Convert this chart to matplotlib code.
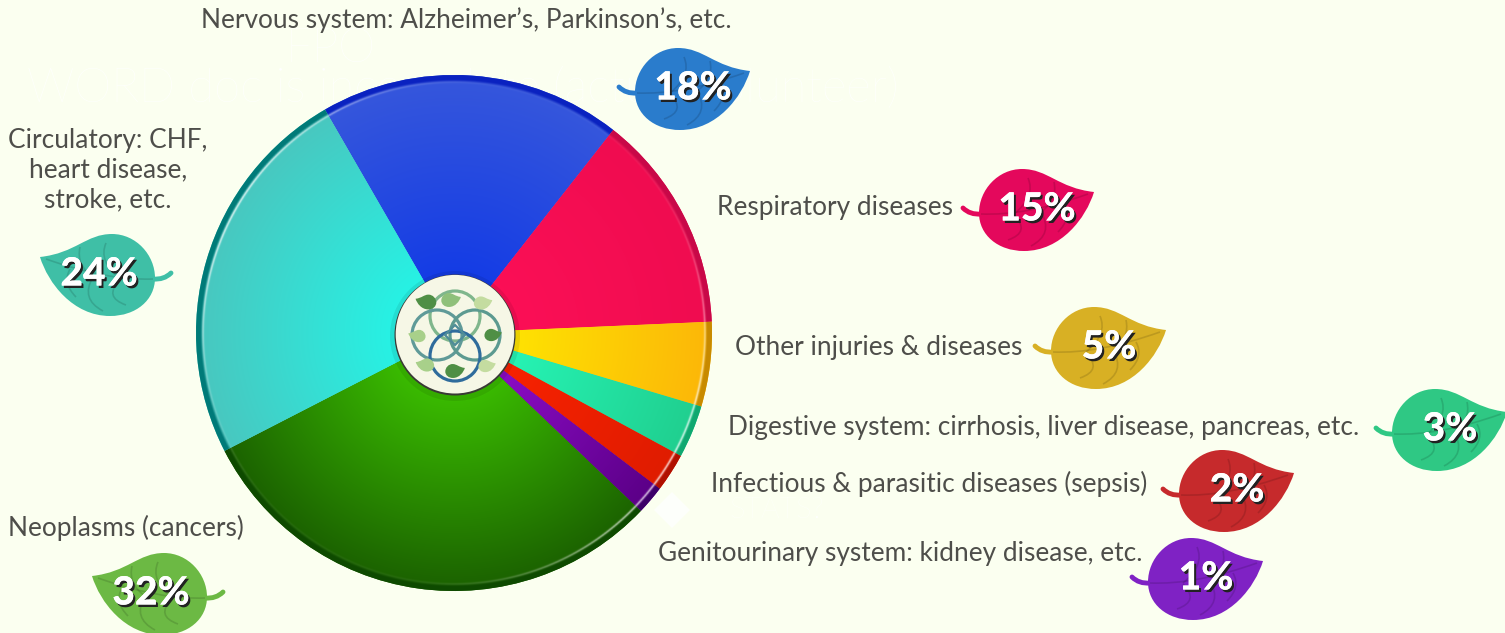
#coding:utf8

import numpy as np
import matplotlib
matplotlib.use('Agg')
import matplotlib.pyplot as plt
import matplotlib.patheffects as pe
from matplotlib.colors import to_rgb
from matplotlib.patches import Circle, PathPatch, RegularPolygon
from matplotlib.path import Path

W = 1505
H = 633
BG = '#fbfff0'
TXT = '#4e4e4a'

plt.rcParams['font.family'] = ['Lato', 'DejaVu Sans']

categories = ['Nervous system: Alzheimer\u2019s, Parkinson\u2019s, etc.',
              'Respiratory diseases',
              'Other injuries & diseases',
              'Digestive system: cirrhosis, liver disease, pancreas, etc.',
              'Infectious & parasitic diseases (sepsis)',
              'Genitourinary system: kidney disease, etc.',
              'Neoplasms (cancers)',
              'Circulatory: CHF,\nheart disease,\nstroke, etc.']
percent_labels = ['18%', '15%', '5%', '3%', '2%', '1%', '32%', '24%']
slice_share = [18.9, 13.7, 5.3, 3.3, 2.4, 1.8, 30.3, 24.2]

inner_cols = ['#0a34e8', '#ff1058', '#fff000', '#28ffc0', '#ff2400', '#9a10d8', '#44d800', '#1cfff0']
outer_cols = ['#3556dc', '#f00c50', '#fcb808', '#20d090', '#e01c00', '#5c0088', '#1c6400', '#48c8c0']
rim_cols = ['#0a22c0', '#c80848', '#c88a00', '#10a870', '#b01000', '#3c0068', '#0e4a00', '#007a78']
leaf_cols = ['#2a7ccc', '#e4085c', '#d8b024', '#2fc884', '#c62a2c', '#7f22c4', '#6cb944', '#3fbfa6']

# text anchors in picture pixels
label_x = [201, 717, 735, 728, 711, 658, 8, 108]
label_y = [20, 207, 348, 428, 484, 554, 528, 170]
leaf_x = [692, 1036, 1108, 1449, 1236, 1205, 150, 98]
leaf_y = [89, 210, 348, 430, 491, 579, 594, 275]
leaf_dir = [1, 1, 1, 1, 1, 1, -1, -1]

PIE_X, PIE_Y, PIE_R = 454, 333, 258


def py(y):
    return H - y


def leaf_path(cx, cy, s=1.0, d=1):
    verts = [(-57, 3), (-57, -20), (-38, -41), (-14, -41),
             (12, -41), (22, -22), (58, -18),
             (50, 8), (25, 41), (-12, 41),
             (-38, 41), (-57, 25), (-57, 3), (-57, 3)]
    codes = [Path.MOVETO] + [Path.CURVE4] * 12 + [Path.CLOSEPOLY]
    verts = [(cx + d * s * a, py(cy + s * b)) for a, b in verts]
    return Path(verts, codes)


def curve(cx, cy, pts, s=1.0, d=1):
    verts = [(cx + d * s * a, py(cy + s * b)) for a, b in pts]
    return Path(verts, [Path.MOVETO] + [Path.CURVE3] * (len(pts) - 1))


def draw_leaf(ax, cx, cy, col, d=1, s=1.0, z=6, veins=True):
    body = PathPatch(leaf_path(cx, cy, s, d), fc=col, ec='none', zorder=z)
    ax.add_patch(body)
    if not veins:
        return
    rib = [(-73, -2), (-66, 5), (-55, 4), (-10, 6), (52, -16)]
    ax.add_patch(PathPatch(curve(cx, cy, rib[:3], s, d), fc='none', ec=col, lw=3.5, capstyle='round', zorder=z))
    dark = [rib[2:],
            [(-22, 4), (0, -14), (-8, -32)],
            [(5, 2), (22, -10), (18, -28)],
            [(-22, 5), (-5, 22), (-28, 30)],
            [(5, 2), (18, 24), (-5, 36)],
            [(28, -6), (36, 8), (22, 22)]]
    for pts in dark:
        v = PathPatch(curve(cx, cy, pts, s, d), fc='none', ec='black', alpha=0.13, lw=1.2, zorder=z + 0.1)
        ax.add_patch(v)
        v.set_clip_path(body)


def shade_wedge(ax, wedge, inner, outer, rim):
    # radial shading, painted in a square and cut by the pie wedge
    n = 800
    u = np.linspace(-1, 1, n)
    xx, yy = np.meshgrid(u, u)
    r = np.hypot(xx, yy)
    a = np.degrees(np.arctan2(yy, xx)) % 360
    c0, c1, c2 = np.array(to_rgb(inner)), np.array(to_rgb(outer)), np.array(to_rgb(rim))
    t = np.clip(r / 0.97, 0, 1)[..., None]
    img = c0 * (1 - t) + c1 * t
    e = np.clip((r - 0.972) / 0.012, 0, 1)[..., None]
    img = img * (1 - e) + c2 * e
    # thin pale ring just inside the rim, stronger upper left and lower right
    glow = np.exp(-((r - 0.974) / 0.004) ** 2)
    k = 0.05 + 0.7 * np.cos(np.radians(a - 150)) ** 4
    g = (glow * k)[..., None]
    img = img * (1 - g) + g
    im = ax.imshow(img, extent=(PIE_X - PIE_R, PIE_X + PIE_R, py(PIE_Y) - PIE_R, py(PIE_Y) + PIE_R),
                   origin='lower', zorder=3, interpolation='bilinear')
    im.set_clip_path(wedge)


def main():
    fig = plt.figure(figsize=(W / 100, H / 100), dpi=100, facecolor=BG)
    ax = fig.add_axes([0, 0, 1, 1])

    wedges, _ = ax.pie(slice_share, center=(PIE_X, py(PIE_Y)), radius=PIE_R, startangle=120,
                       counterclock=False, colors=outer_cols, frame=True, normalize=True)
    for w, a, b, c in zip(wedges, inner_cols, outer_cols, rim_cols):
        w.set_zorder(2)
        shade_wedge(ax, w, a, b, c)

    ax.set_xlim(0, W)
    ax.set_ylim(0, H)
    ax.set_aspect('equal')
    ax.axis('off')

    # leftover white placeholder text from the source artwork
    ghost = dict(color='white', ha='center', va='center', zorder=1, fontweight='light')
    ax.text(331, py(50), 'FPO', fontsize=34, **ghost)
    ax.text(463, py(88), 'WORD doc is incomplete (actual volunteer)', fontsize=34, **ghost)
    ax.text(777, py(510), 'STATS?', fontsize=21, **ghost)
    ax.add_patch(RegularPolygon((672, py(510)), 4, radius=18, fc='white', ec='none', alpha=0.75, zorder=1))

    # hub with the logo
    ax.add_patch(Circle((PIE_X + 1, py(PIE_Y + 3)), 65, fc='black', ec='none', alpha=0.08, zorder=4))
    ax.add_patch(Circle((455, py(335)), 60.5, fc='#3a3a36', ec='none', zorder=5))
    ax.add_patch(Circle((455, py(334.2)), 59.3, fc='#f6f7e6', ec='none', zorder=5.1))
    for cx, cy, col in [(455, 316, '#7fb68c'), (437, 335, '#5f9a98'), (475, 335, '#5c9a90'), (455, 356, '#2f6c9c')]:
        ax.add_patch(Circle((cx, py(cy)), 25, fc='none', ec=col, lw=2.3, zorder=5.3))
    ax.add_patch(RegularPolygon((455, py(335)), 4, radius=10, fc='none', ec='#4f8c98', lw=1.6, zorder=5.3))
    for cx, cy, col, s, d in [(426, 302, '#4f8f45', 0.18, -1), (451, 300, '#8fc07a', 0.17, 1),
                              (483, 303, '#c4dca0', 0.16, 1), (417, 336, '#a8d08a', 0.15, -1),
                              (493, 335, '#4f8f45', 0.15, 1), (425, 365, '#a8d08a', 0.16, -1),
                              (455, 371, '#4f8f45', 0.17, 1), (487, 366, '#c4dca0', 0.15, 1)]:
        draw_leaf(ax, cx, cy, col, d=d, s=s, z=5.4, veins=False)

    # labels
    for name, x, y in zip(categories, label_x, label_y):
        ha = 'center' if '\n' in name else 'left'
        ax.text(x, py(y), name, color=TXT, fontsize=18.9, ha=ha, va='center', linespacing=1.24, zorder=8)

    # leaves with the percentages
    shadow = [pe.withSimplePatchShadow(offset=(1.5, -1.8), shadow_rgbFace='#222222', alpha=1.0, rho=1.0)]
    for pct, x, y, d, col in zip(percent_labels, leaf_x, leaf_y, leaf_dir, leaf_cols):
        draw_leaf(ax, x, y, col, d=d)
        t = ax.text(x + 1, py(y - 1), pct, color='white', fontsize=28, fontweight='black',
                    ha='center', va='center', zorder=9)
        t.set_path_effects(shadow + [pe.Normal()])

    fig.savefig('out.png', dpi=100, facecolor=BG)


if __name__ == '__main__':
    main()
